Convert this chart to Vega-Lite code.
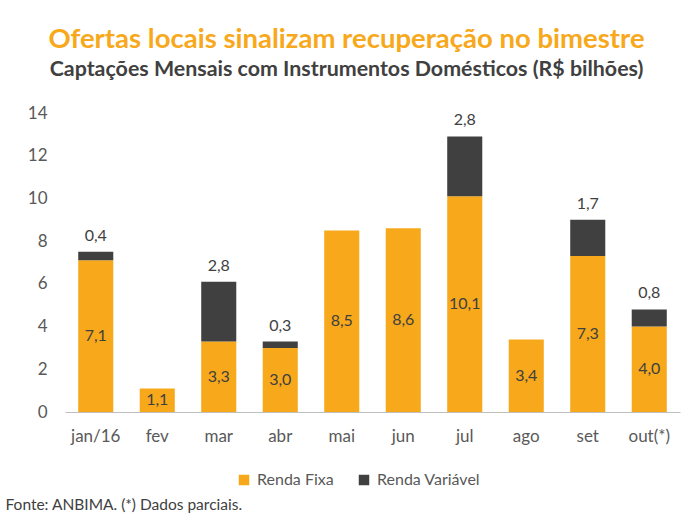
{
  "$schema": "https://vega.github.io/schema/vega-lite/v6.json",
  "width": 615,
  "height": 299,
  "autosize": "none",
  "padding": {"left": 65, "top": 113, "right": 12, "bottom": 112},
  "background": "white",
  "config": {
    "font": "Lato",
    "view": {"stroke": null},
    "locale": {"number": {"decimal": ",", "thousands": ".", "grouping": [3], "currency": ["R$", ""]}}
  },
  "title": {
    "text": "Ofertas locais sinalizam recuperação no bimestre",
    "subtitle": "Captações Mensais com Instrumentos Domésticos (R$ bilhões)",
    "anchor": "middle",
    "dx": -26,
    "offset": 24,
    "font": "Lato",
    "fontSize": 27.5,
    "fontWeight": "bold",
    "color": "#F7A81B",
    "subtitleFont": "Lato",
    "subtitleFontSize": 21.4,
    "subtitleFontWeight": "bold",
    "subtitleColor": "#404040",
    "subtitlePadding": 5
  },
  "data": {
    "values": [
      {"mes": "jan/16", "RF": 7.1, "RV": 0.4},
      {"mes": "fev", "RF": 1.1, "RV": 0},
      {"mes": "mar", "RF": 3.3, "RV": 2.8},
      {"mes": "abr", "RF": 3.0, "RV": 0.3},
      {"mes": "mai", "RF": 8.5, "RV": 0},
      {"mes": "jun", "RF": 8.6, "RV": 0},
      {"mes": "jul", "RF": 10.1, "RV": 2.8},
      {"mes": "ago", "RF": 3.4, "RV": 0},
      {"mes": "set", "RF": 7.3, "RV": 1.7},
      {"mes": "out(*)", "RF": 4.0, "RV": 0.8}
    ]
  },
  "encoding": {
    "x": {
      "field": "mes",
      "type": "nominal",
      "sort": null,
      "scale": {"paddingInner": 0.43, "paddingOuter": 0.215},
      "axis": {
        "labelAngle": 0,
        "labelFontSize": 17,
        "labelColor": "#595959",
        "labelPadding": 16,
        "ticks": false,
        "domainColor": "#BFBFBF",
        "domainWidth": 1,
        "title": "Fonte: ANBIMA. (*) Dados parciais.",
        "titleAnchor": "start",
        "titleAlign": "left",
        "titleX": -60,
        "titleY": 97,
        "titleBaseline": "alphabetic",
        "titleFontSize": 15.5,
        "titleFontWeight": "normal",
        "titleColor": "#404040"
      }
    }
  },
  "layer": [
    {
      "transform": [
        {"fold": ["RF", "RV"], "as": ["tipo", "valor"]},
        {"calculate": "datum.tipo == 'RF' ? 'Renda Fixa' : 'Renda Variável'", "as": "serie"},
        {"calculate": "datum.tipo == 'RF' ? 0 : 1", "as": "ordem"}
      ],
      "mark": {"type": "bar"},
      "encoding": {
        "y": {
          "field": "valor",
          "type": "quantitative",
          "stack": "zero",
          "scale": {"domain": [0, 14], "nice": false},
          "axis": {
            "values": [0, 2, 4, 6, 8, 10, 12, 14],
            "grid": false,
            "domain": false,
            "ticks": false,
            "labelFontSize": 17,
            "labelColor": "#595959",
            "labelPadding": 18,
            "title": null
          }
        },
        "order": {"field": "ordem"},
        "color": {
          "field": "serie",
          "type": "nominal",
          "scale": {"domain": ["Renda Fixa", "Renda Variável"], "range": ["#F7A81B", "#404040"]},
          "legend": {
            "orient": "none",
            "direction": "horizontal",
            "legendX": 171,
            "legendY": 359,
            "title": null,
            "symbolType": "square",
            "symbolSize": 110,
            "symbolStrokeWidth": 0,
            "labelFontSize": 16,
            "labelColor": "#595959",
            "labelOffset": 5,
            "columnPadding": 22
          }
        }
      }
    },
    {
      "transform": [{"calculate": "datum.RF / 2", "as": "meio"}],
      "mark": {"type": "text", "fontSize": 16, "color": "#404040", "baseline": "middle"},
      "encoding": {
        "y": {"field": "meio", "type": "quantitative"},
        "text": {"field": "RF", "type": "quantitative", "format": ".1f"}
      }
    },
    {
      "transform": [
        {"filter": "datum.RV > 0"},
        {"calculate": "datum.RF + datum.RV", "as": "total"}
      ],
      "mark": {"type": "text", "fontSize": 16, "color": "#404040", "baseline": "bottom", "dy": -8},
      "encoding": {
        "y": {"field": "total", "type": "quantitative"},
        "text": {"field": "RV", "type": "quantitative", "format": ".1f"}
      }
    }
  ]
}
